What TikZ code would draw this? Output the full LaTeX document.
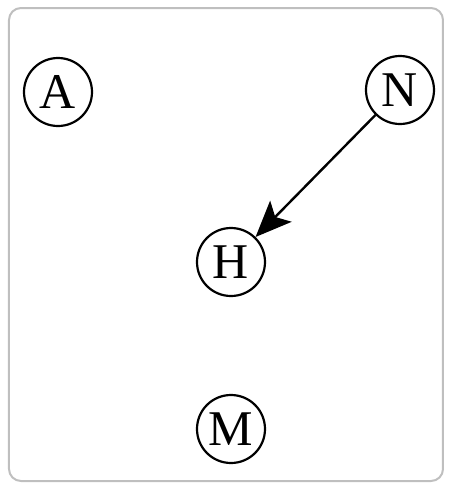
\documentclass[tikz,border=0pt]{standalone}
\usepackage{fontspec}
\setmainfont{Liberation Serif}
\usetikzlibrary{arrows.meta}

\begin{document}
\begin{tikzpicture}[x=0.5pt,y=-0.5pt,>={Stealth[length=18pt,width=15pt,inset=4pt]},
    var/.style={draw,circle,line width=1.1pt,minimum size=34pt,inner sep=0pt,font=\fontsize{25}{30}\selectfont}]
    \useasboundingbox (0,0) rectangle (449,489);
    \draw[black!25,line width=1pt,rounded corners=6pt] (9,8) rectangle (443,481);
    \node[var] (A) at (58,92) {A};
    \node[var] (N) at (400,90) {N};
    \node[var] (H) at (231,262) {H};
    \node[var] (M) at (231,429) {M};
    \draw[->,line width=1.2pt](N)--(H);
  \end{tikzpicture}
\end{document}
